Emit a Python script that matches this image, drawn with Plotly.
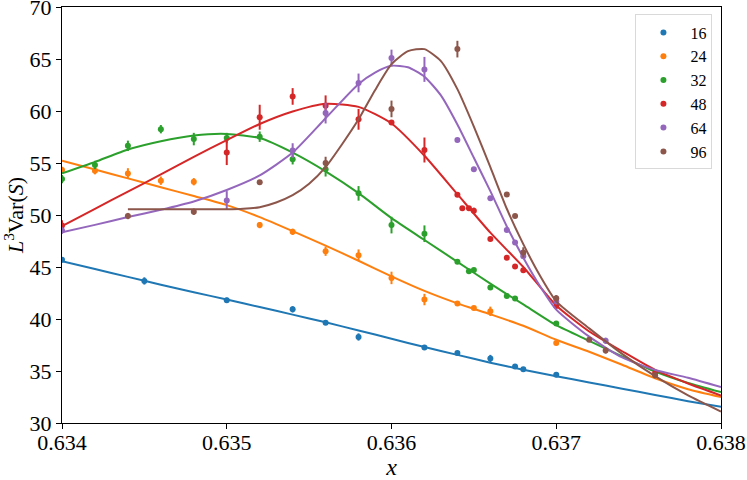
import plotly.graph_objects as go

# ---------------- data points (x, value, error) ----------------
labels = ["16", "24", "32", "48", "64", "96"]
colors = ["#1f77b4", "#ff7f0e", "#2ca02c", "#d62728", "#9467bd", "#8c564b"]

x16 = [0.634, 0.6345, 0.635, 0.6354, 0.6356, 0.6358, 0.6362, 0.6364, 0.6366, 0.63675, 0.6368, 0.637]
y16 = [45.7, 43.66, 41.8, 40.93, 39.65, 38.27, 37.27, 36.73, 36.2, 35.44, 35.18, 34.64]
e16 = [0.25, 0.35, 0.25, 0.3, 0.2, 0.35, 0.2, 0.15, 0.35, 0.15, 0.15, 0.15]

x24 = [0.634, 0.6342, 0.6344, 0.6346, 0.6348, 0.6352, 0.6354, 0.6356, 0.6358, 0.636, 0.6362, 0.6364, 0.6365, 0.6366, 0.637]
y24 = [54.33, 54.26, 54.0, 53.3, 53.2, 49.03, 48.38, 46.52, 46.14, 43.95, 41.87, 41.48, 41.06, 40.74, 37.69]
e24 = [0.3, 0.35, 0.5, 0.4, 0.35, 0.3, 0.3, 0.45, 0.55, 0.6, 0.55, 0.15, 0.15, 0.45, 0.15]

x32 = [0.634, 0.6342, 0.6344, 0.6346, 0.6348, 0.635, 0.6352, 0.6354, 0.6356, 0.6358, 0.636, 0.6362, 0.6364, 0.63647, 0.6365, 0.6366, 0.6367, 0.63675, 0.637]
y32 = [53.45, 54.81, 56.65, 58.25, 57.3, 57.4, 57.53, 55.36, 54.4, 52.08, 49.03, 48.2, 45.5, 44.6, 44.7, 43.03, 42.2, 41.97, 39.56]
e32 = [0.4, 0.4, 0.5, 0.4, 0.6, 0.5, 0.5, 0.5, 0.7, 0.7, 0.8, 0.8, 0.15, 0.2, 0.2, 0.2, 0.15, 0.15, 0.15]

x48 = [0.634, 0.635, 0.6352, 0.6354, 0.6356, 0.6358, 0.636, 0.6362, 0.6364, 0.63643, 0.63647, 0.6365, 0.6366, 0.6367, 0.63675, 0.6368, 0.637, 0.6376]
y48 = [49.0, 56.0, 59.4, 61.4, 60.5, 59.2, 58.9, 56.25, 51.95, 50.64, 50.64, 50.4, 47.7, 45.9, 45.05, 44.69, 41.25, 34.8]
e48 = [0.5, 1.2, 1.2, 0.8, 1.0, 1.0, 0.2, 1.2, 0.2, 0.2, 0.2, 0.3, 0.2, 0.2, 0.2, 0.2, 0.2, 0.2]

x64 = [0.634, 0.635, 0.6354, 0.6356, 0.6358, 0.636, 0.6362, 0.6364, 0.6365, 0.6366, 0.6367, 0.63675, 0.6368, 0.637, 0.6373]
y64 = [48.5, 51.4, 56.2, 59.8, 62.7, 65.1, 64.0, 57.2, 54.4, 51.6, 48.55, 47.36, 46.04, 41.7, 37.9]
e64 = [0.3, 0.9, 0.7, 1.0, 0.9, 0.8, 1.2, 0.2, 0.2, 0.2, 0.2, 0.2, 0.2, 0.3, 0.3]

x96 = [0.6344, 0.6348, 0.6352, 0.6356, 0.636, 0.6364, 0.6367, 0.63675, 0.6368, 0.637, 0.6372, 0.6373, 0.6376]
y96 = [49.9, 50.31, 53.14, 55.0, 60.2, 65.95, 51.98, 49.9, 46.4, 42.0, 38.0, 36.98, 34.6]
e96 = [0.3, 0.3, 0.2, 0.6, 0.8, 0.8, 0.2, 0.2, 0.5, 0.3, 0.2, 0.3, 0.3]

# ---------------- fitted curves ----------------
cx = [0.634, 0.6342, 0.6344, 0.6346, 0.6348, 0.635, 0.6352, 0.6354, 0.6356, 0.6358, 0.636,
      0.6362, 0.6364, 0.6366, 0.6368, 0.637, 0.6372, 0.6374, 0.6376, 0.6378, 0.638]
c16 = [45.55, 44.8, 44.05, 43.3, 42.58, 41.87, 41.15, 40.42, 39.68, 38.9, 38.1,
       37.3, 36.55, 35.8, 35.12, 34.5, 33.9, 33.3, 32.7, 32.1, 31.55]
c24 = [55.22, 54.37, 53.52, 52.67, 51.82, 50.95, 49.8, 48.45, 47.05, 45.6, 44.1,
       42.7, 41.5, 40.45, 39.35, 38.0, 36.85, 35.6, 34.3, 33.25, 32.5]
c32 = [54.0, 55.1, 56.3, 57.1, 57.65, 57.8, 57.4, 56.0, 54.2, 52.1, 49.7,
       47.6, 45.5, 43.4, 41.4, 39.4, 37.9, 36.4, 34.95, 33.85, 32.97]
c48 = [48.93, 50.6, 52.25, 53.9, 55.6, 57.2, 58.75, 59.95, 60.7, 60.4, 58.8,
       55.7, 52.0, 48.3, 45.0, 41.3, 38.8, 36.9, 35.1, 33.8, 32.65]

c64x = [0.634, 0.6342, 0.6344, 0.6346, 0.6348, 0.635, 0.6352, 0.6354, 0.6356, 0.6358, 0.6359, 0.636,
        0.6361, 0.6362, 0.6363, 0.6364, 0.6365, 0.6366, 0.6367, 0.6368, 0.6369, 0.637, 0.6372,
        0.6374, 0.6376, 0.6378, 0.638]
c64 = [48.35, 49.05, 49.8, 50.5, 51.3, 52.4, 53.8, 56.0, 59.3, 62.6, 63.7, 64.35,
       64.2, 63.3, 61.5, 58.7, 55.5, 52.3, 48.9, 45.9, 43.2, 40.9, 38.3,
       36.3, 35.1, 34.35, 33.45]

c96x = [0.6344, 0.6346, 0.6348, 0.635, 0.6351, 0.6352, 0.6353, 0.6354, 0.6355, 0.6356, 0.6357, 0.6358,
        0.6359, 0.636, 0.6361, 0.6362, 0.6363, 0.6364, 0.6365, 0.6366, 0.6367, 0.6368, 0.6369,
        0.637, 0.6372, 0.6374, 0.6376, 0.6378, 0.638]
c96 = [50.55, 50.55, 50.55, 50.55, 50.6, 50.75, 51.2, 51.9, 53.0, 54.6, 56.8, 59.2,
       62.0, 64.5, 65.75, 65.95, 64.8, 62.1, 58.5, 54.6, 50.6, 47.2, 44.2,
       41.7, 39.1, 36.65, 34.5, 32.65, 31.1]

pts = [(x16, y16, e16), (x24, y24, e24), (x32, y32, e32),
       (x48, y48, e48), (x64, y64, e64), (x96, y96, e96)]
curves = [(cx, c16), (cx, c24), (cx, c32), (cx, c48), (c64x, c64), (c96x, c96)]

FONT = "Liberation Serif, Times New Roman, Times, serif"
fig = go.Figure()

for i, lab in enumerate(labels):
    px, py, pe = pts[i]
    fig.add_trace(go.Scatter(
        x=px, y=py, mode="markers", name=lab, showlegend=True,
        marker=dict(color=colors[i], size=6),
        error_y=dict(type="data", array=pe, visible=True, thickness=2, width=0, color=colors[i]),
    ))
    qx, qy = curves[i]
    fig.add_trace(go.Scatter(
        x=qx, y=qy, mode="lines", showlegend=False, hoverinfo="skip",
        line=dict(color=colors[i], width=2, shape="spline", smoothing=0.6),
    ))

axis_common = dict(
    showline=True, linecolor="black", linewidth=1.2, mirror=True,
    ticks="outside", ticklen=5, tickwidth=1.2, tickcolor="black",
    showgrid=False, zeroline=False, automargin=False,
    ticklabeloverflow="allow",
    tickfont=dict(family=FONT, size=22, color="black"),
)

fig.update_xaxes(
    range=[0.634, 0.638], tickvals=[0.634, 0.635, 0.636, 0.637, 0.638],
    ticktext=["0.634", "0.635", "0.636", "0.637", "0.638"],
    ticklabelstandoff=-6,
    title=dict(text="<i>x</i>", font=dict(family=FONT, size=24, color="black"), standoff=0),
    **axis_common,
)
fig.update_yaxes(
    range=[30, 70], tickvals=[30, 35, 40, 45, 50, 55, 60, 65, 70],
    title=dict(text="<i>L</i><sup>3</sup>Var(<i>S</i>)", font=dict(family=FONT, size=22, color="black"), standoff=4),
    **axis_common,
)

fig.update_layout(
    width=747, height=480,
    font=dict(family=FONT, color="black"),
    margin=dict(l=62, r=26, t=7, b=57),
    plot_bgcolor="white", paper_bgcolor="white",
    legend=dict(
        x=0.987, y=0.982, xanchor="right", yanchor="top",
        bgcolor="white", bordercolor="#d9d9d9", borderwidth=1,
        font=dict(family=FONT, size=16, color="black"),
        itemwidth=44, tracegroupgap=0,
    ),
    showlegend=True,
)

fig.write_html(
    "out.html",
    config={"displayModeBar": False},
    post_script="document.body.style.margin='0';document.body.style.padding='0';",
)
